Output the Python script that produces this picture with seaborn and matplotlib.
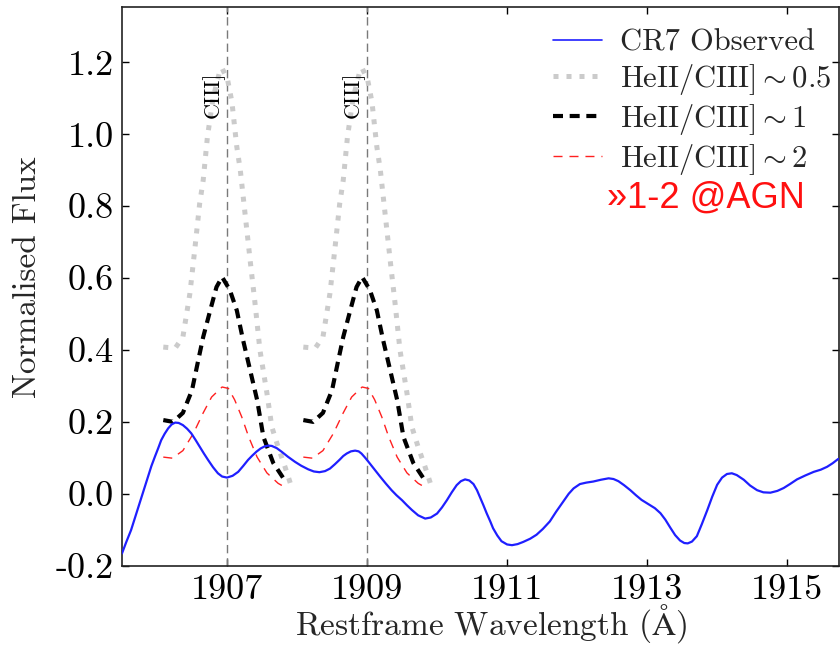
import numpy as np
import pandas as pd
import matplotlib
matplotlib.use("Agg")
import matplotlib.pyplot as plt
from matplotlib.lines import Line2D
import seaborn as sns

# ---------------- data ----------------
obs_wave = [1905.50, 1905.56, 1905.63, 1905.69, 1905.75, 1905.81, 1905.87, 1905.92, 1905.97,
            1906.02, 1906.06, 1906.11, 1906.16, 1906.21, 1906.26, 1906.31, 1906.37, 1906.43,
            1906.49, 1906.55, 1906.61, 1906.67, 1906.73, 1906.80, 1906.87, 1906.93, 1907.00,
            1907.08, 1907.16, 1907.23, 1907.30, 1907.36, 1907.42, 1907.48, 1907.54, 1907.59,
            1907.64, 1907.71, 1907.78, 1907.87, 1907.97, 1908.06, 1908.16, 1908.24, 1908.32,
            1908.40, 1908.47, 1908.54, 1908.61, 1908.66, 1908.71, 1908.77, 1908.83, 1908.88,
            1908.92, 1908.97, 1909.02, 1909.10, 1909.19, 1909.27, 1909.35, 1909.42, 1909.50,
            1909.57, 1909.64, 1909.73, 1909.83, 1909.91, 1910.00, 1910.07, 1910.14, 1910.21,
            1910.28, 1910.34, 1910.40, 1910.46, 1910.52, 1910.57, 1910.61, 1910.66, 1910.71,
            1910.76, 1910.80, 1910.86, 1910.92, 1911.00, 1911.07, 1911.15, 1911.23, 1911.33,
            1911.42, 1911.51, 1911.61, 1911.70, 1911.80, 1911.88, 1911.95, 1912.04, 1912.13,
            1912.23, 1912.34, 1912.45, 1912.52, 1912.59, 1912.67, 1912.76, 1912.84, 1912.92,
            1913.01, 1913.11, 1913.19, 1913.26, 1913.33, 1913.40, 1913.47, 1913.53, 1913.58,
            1913.64, 1913.71, 1913.78, 1913.86, 1913.93, 1914.00, 1914.07, 1914.14, 1914.21,
            1914.28, 1914.38, 1914.47, 1914.57, 1914.66, 1914.76, 1914.86, 1914.95, 1915.04,
            1915.14, 1915.26, 1915.38, 1915.48, 1915.57, 1915.65, 1915.73]
obs_flux = [-0.166, -0.135, -0.101, -0.064, -0.027, 0.011, 0.047, 0.077, 0.103,
            0.128, 0.149, 0.167, 0.182, 0.193, 0.198, 0.197, 0.191, 0.181,
            0.168, 0.150, 0.131, 0.112, 0.094, 0.074, 0.057, 0.048, 0.045,
            0.050, 0.061, 0.077, 0.094, 0.106, 0.117, 0.126, 0.132, 0.134,
            0.133, 0.127, 0.117, 0.103, 0.089, 0.078, 0.068, 0.062, 0.060,
            0.063, 0.070, 0.082, 0.095, 0.105, 0.112, 0.118, 0.120, 0.118,
            0.112, 0.101, 0.089, 0.069, 0.047, 0.028, 0.010, -0.004, -0.018,
            -0.032, -0.045, -0.060, -0.069, -0.066, -0.055, -0.038, -0.018, 0.004,
            0.024, 0.035, 0.040, 0.037, 0.027, 0.010, -0.008, -0.031, -0.055,
            -0.077, -0.096, -0.116, -0.132, -0.141, -0.143, -0.140, -0.134, -0.125,
            -0.114, -0.098, -0.077, -0.050, -0.022, 0.000, 0.015, 0.027, 0.031,
            0.034, 0.039, 0.043, 0.041, 0.035, 0.024, 0.010, -0.004, -0.017,
            -0.028, -0.040, -0.054, -0.072, -0.094, -0.115, -0.130, -0.137, -0.138,
            -0.133, -0.118, -0.085, -0.045, -0.008, 0.025, 0.045, 0.055, 0.057,
            0.052, 0.039, 0.023, 0.010, 0.004, 0.003, 0.008, 0.016, 0.027,
            0.040, 0.051, 0.061, 0.067, 0.075, 0.085, 0.097]

# HeII/CIII] ~ 0.5 model (grey dotted), two line components
m05_wave_a = [1906.09, 1906.26, 1906.37, 1906.47, 1906.54, 1906.61, 1906.66, 1906.72, 1906.80,
              1906.90, 1906.93, 1907.01, 1907.07, 1907.14, 1907.19, 1907.26, 1907.33, 1907.40,
              1907.47, 1907.57, 1907.64, 1907.73, 1907.83, 1907.92]
m05_flux_a = [0.408, 0.405, 0.436, 0.557, 0.680, 0.808, 0.872, 0.992, 1.100,
              1.178, 1.184, 1.150, 1.090, 0.965, 0.900, 0.775, 0.650, 0.530,
              0.400, 0.280, 0.186, 0.130, 0.074, 0.020]
m05_wave_b = [1908.09, 1908.26, 1908.37, 1908.47, 1908.54, 1908.61, 1908.66, 1908.72, 1908.80,
              1908.90, 1908.93, 1909.01, 1909.07, 1909.14, 1909.19, 1909.26, 1909.33, 1909.40,
              1909.47, 1909.57, 1909.64, 1909.73, 1909.83, 1909.92]
m05_flux_b = [0.408, 0.405, 0.436, 0.557, 0.680, 0.808, 0.872, 0.992, 1.100,
              1.178, 1.184, 1.150, 1.090, 0.965, 0.900, 0.775, 0.650, 0.530,
              0.400, 0.280, 0.186, 0.130, 0.074, 0.020]

# HeII/CIII] ~ 1 model (black dashed)
m1_wave_a = [1906.09, 1906.23, 1906.37, 1906.50, 1906.59, 1906.66, 1906.76, 1906.85, 1906.93,
             1907.04, 1907.14, 1907.23, 1907.33, 1907.43, 1907.52, 1907.66, 1907.85]
m1_flux_a = [0.205, 0.200, 0.225, 0.288, 0.372, 0.436, 0.510, 0.575, 0.603,
             0.567, 0.510, 0.427, 0.344, 0.261, 0.158, 0.086, 0.030]
m1_wave_b = [1908.09, 1908.23, 1908.37, 1908.50, 1908.59, 1908.66, 1908.76, 1908.85, 1908.93,
             1909.04, 1909.14, 1909.23, 1909.33, 1909.43, 1909.52, 1909.66, 1909.85]
m1_flux_b = [0.205, 0.200, 0.225, 0.288, 0.372, 0.436, 0.510, 0.575, 0.603,
             0.567, 0.510, 0.427, 0.344, 0.261, 0.158, 0.086, 0.030]

# HeII/CIII] ~ 2 model (red thin dashed)
m2_wave_a = [1906.09, 1906.22, 1906.37, 1906.52, 1906.66, 1906.78, 1906.93, 1907.02, 1907.11,
             1907.21, 1907.31, 1907.43, 1907.57, 1907.73, 1907.83]
m2_flux_a = [0.102, 0.099, 0.120, 0.168, 0.225, 0.269, 0.297, 0.293, 0.261,
             0.214, 0.158, 0.102, 0.058, 0.029, 0.018]
m2_wave_b = [1908.09, 1908.22, 1908.37, 1908.52, 1908.66, 1908.78, 1908.93, 1909.02, 1909.11,
             1909.21, 1909.31, 1909.43, 1909.57, 1909.73, 1909.83]
m2_flux_b = [0.102, 0.099, 0.120, 0.168, 0.225, 0.269, 0.297, 0.293, 0.261,
             0.214, 0.158, 0.102, 0.058, 0.029, 0.018]

line_positions = [1907.0, 1909.0]
line_labels = ["CIII]", "CIII]"]
xticks = [1907, 1909, 1911, 1913, 1915]
xtick_labels = ["1907", "1909", "1911", "1913", "1915"]
yticks = [-0.2, 0.0, 0.2, 0.4, 0.6, 0.8, 1.0, 1.2]
ytick_labels = ["-0.2", "0.0", "0.2", "0.4", "0.6", "0.8", "1.0", "1.2"]
legend_labels = ["CR7 Observed", r"HeII/CIII]$\sim$0.5", r"HeII/CIII]$\sim$1", r"HeII/CIII]$\sim$2"]
note_text = "»1-2 @AGN"

# ---------------- style ----------------
sns.set_theme(style="ticks")
plt.rcParams["font.family"] = ["cmr10", "DejaVu Serif"]
plt.rcParams["mathtext.fontset"] = "cm"
plt.rcParams["axes.unicode_minus"] = False
plt.rcParams["axes.formatter.use_mathtext"] = True

fig = plt.figure(figsize=(8.4, 6.47), dpi=100)
ax = fig.add_axes([0.1452, 0.1257, 0.8536, 0.8635])

def draw(w, f, **kw):
    df = pd.DataFrame({"w": w, "f": f})
    sns.lineplot(data=df, x="w", y="f", ax=ax, estimator=None, sort=False, **kw)

for xv in line_positions:
    ax.axvline(xv, color="#7a7a7a", lw=1.0, ls=(0, (6, 3.5)), zorder=1)

blue_style = dict(color="#1f1fff", lw=1.6)
g_style = dict(color="#cbcbcb", lw=3.6, ls=(0, (1, 1.6)))
k_style = dict(color="black", lw=3.0, ls=(0, (2.4, 1.6)))
r_style = dict(color="#ff2020", lw=1.0, ls=(0, (6.5, 5)))

draw(obs_wave, obs_flux, zorder=5, **blue_style)
draw(m05_wave_a, m05_flux_a, zorder=2, **g_style)
draw(m05_wave_b, m05_flux_b, zorder=2, **g_style)
draw(m1_wave_a, m1_flux_a, zorder=3, **k_style)
draw(m1_wave_b, m1_flux_b, zorder=3, **k_style)
draw(m2_wave_a, m2_flux_a, zorder=4, **r_style)
draw(m2_wave_b, m2_flux_b, zorder=4, **r_style)

for xv, lab in zip(line_positions, line_labels):
    ax.text(xv - 0.19, 1.045, lab, rotation=90, ha="center", va="bottom",
            fontsize=16, color="black", zorder=6)

ax.set_xlim(1905.5, 1915.74)
ax.set_ylim(-0.2, 1.354)
ax.set_xticks(xticks)
ax.set_xticklabels(xtick_labels)
ax.set_yticks(yticks)
ax.set_yticklabels(ytick_labels)
ax.tick_params(direction="in", top=True, right=True, length=5, width=1,
               labelsize=26, pad=6, colors="black")
for s in ax.spines.values():
    s.set_color("#222222")
    s.set_linewidth(1.2)
ax.set_xlabel(r"Restframe Wavelength ($\mathrm{\AA}$)", fontsize=24)
ax.set_ylabel("Normalised Flux", fontsize=24)
ax.xaxis.set_label_coords(0.515, -0.066)
ax.yaxis.set_label_coords(-0.112, 0.517)

handles = [Line2D([], [], color="#1f1fff", lw=1.2),
           Line2D([], [], **g_style),
           Line2D([], [], **k_style),
           Line2D([], [], **r_style)]
ax.legend(handles, legend_labels, loc="upper right", frameon=False, fontsize=22,
          handlelength=1.6, handletextpad=0.59, labelspacing=0.17,
          bbox_to_anchor=(1.028, 1.01))

ax.text(1912.43, 0.797, note_text, color="#ff1010", fontsize=26,
        family="Liberation Sans", ha="left", va="baseline")

fig.savefig("out.png", dpi=100)
